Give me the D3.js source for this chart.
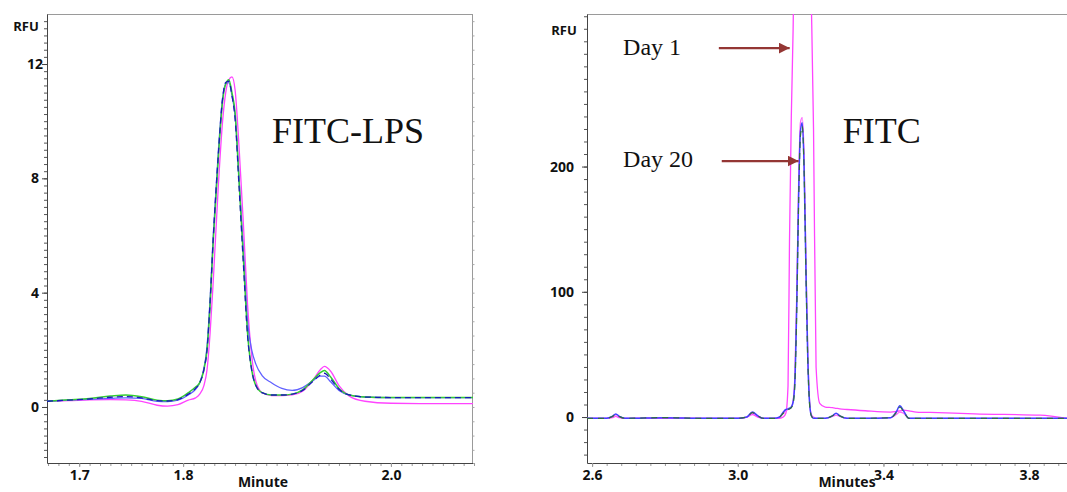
<!DOCTYPE html>
<html>
<head>
<meta charset="utf-8">
<script src="https://cdn.jsdelivr.net/npm/d3@7"></script>
<style>
	body { margin: 0; background: #fff; }
	.tick text { font-family: "Open Sans", sans-serif; font-weight: 700; font-size: 14px; fill: #111; }
	.lbl { font-family: "Open Sans", sans-serif; font-weight: 700; fill: #111; }
	.serif { font-family: "Liberation Serif", "Times New Roman", serif; fill: #111; }
</style>
</head>
<body>
<svg id="chart" width="1067" height="492"></svg>
<script>
// ---- left panel: FITC-LPS (minutes, RFU) ----
const lpsTime = [1.669,1.69,1.71,1.73,1.745,1.76,1.775,1.785,1.795,1.805,1.812,1.816,1.82,1.823,1.826,1.829,1.834,1.838,1.841,1.844,1.847,1.85,1.854,1.858,1.862,1.866,1.87,1.876,1.885,1.895,1.905,1.915,1.925,1.932,1.936,1.942,1.95,1.96,1.975,2.0,2.04,2.079];
const lpsGreen = [0.2,0.25,0.3,0.38,0.42,0.36,0.24,0.22,0.28,0.5,0.7,0.85,1.3,2.0,3.6,5.8,8.8,10.7,11.3,11.45,11.0,10.3,7.8,5.2,2.6,1.3,0.75,0.5,0.42,0.42,0.45,0.6,0.95,1.2,1.28,1.05,0.65,0.42,0.35,0.33,0.33,0.33];
const lpsDark = [0.2,0.24,0.28,0.34,0.36,0.32,0.22,0.21,0.26,0.45,0.65,0.85,1.3,2.0,3.7,5.9,8.9,10.8,11.35,11.4,10.9,10.1,7.6,5.0,2.5,1.3,0.75,0.5,0.42,0.42,0.45,0.58,0.9,1.12,1.18,0.98,0.62,0.42,0.35,0.33,0.33,0.33];
const lpsBlue = [0.2,0.24,0.27,0.3,0.32,0.3,0.2,0.19,0.24,0.42,0.62,0.85,1.35,2.1,3.8,6.0,9.0,10.8,11.3,11.35,10.9,10.2,7.9,5.5,3.0,2.0,1.5,1.1,0.85,0.65,0.58,0.68,0.92,1.08,1.08,0.88,0.58,0.42,0.35,0.33,0.33,0.33];
const lpsMagenta = [0.2,0.22,0.25,0.26,0.25,0.2,0.06,0.03,0.08,0.24,0.32,0.45,0.75,1.3,2.6,4.4,7.8,10.0,11.0,11.45,11.55,11.1,9.0,6.4,3.6,1.8,0.9,0.5,0.4,0.4,0.42,0.55,0.95,1.3,1.42,1.25,0.75,0.38,0.2,0.13,0.12,0.12];
const lpsXTicks = [1.7, 1.8, 2.0];
const lpsYTicks = [0, 4, 8, 12];

// ---- right panel: FITC ----
const fitcTime = [2.586,2.64,2.655,2.665,2.675,2.69,2.8,2.9,3.0,3.025,3.04,3.055,3.07,3.1,3.115,3.125,3.132,3.138,3.142,3.147,3.152,3.157,3.162,3.167,3.172,3.177,3.182,3.187,3.192,3.197,3.202,3.208,3.215,3.225,3.24,3.26,3.27,3.28,3.30,3.35,3.42,3.435,3.445,3.455,3.47,3.49,3.55,3.65,3.83,3.904];
const fitcBlue = [-1,-1,0.5,2.5,0.5,-1,-0.5,-1,-1,0,4,1,-1,-1,0,4,6,6.5,7,8,12,30,90,175,228,235,200,120,50,12,1,-1,-1,-1,-1,1,3,1,-1,-1,-0.5,4,9,5,-1,-1,-1,-1,-1,-1];
const fitcGreen = [-1,-1,0.3,2,0.3,-1,-0.5,-1,-1,0,3.5,1,-1,-1,0,3,5,6,6.5,7.5,11,28,86,170,224,232,198,118,48,11,1,-1,-1,-1,-1,1,2.5,1,-1,-1,-0.5,3.5,8,4.5,-1,-1,-1,-1,-1,-1];
const fitcDay20 = [-1,-1,0,1,0,-1,-0.5,-1,-1,0,3,1,-1,-1,0,3,5,6,6.5,8,13,35,100,185,235,239,210,130,55,14,2,0,-1,-1,-1,0.5,1.5,0.5,-1,-1,-0.5,2,4,3,-1,-1,-1,-1,-1,-1];
const fitcDay1 = [-1,-1,-0.5,0.5,-0.5,-1,-1,-1,-1,0,2,0,-1,-1,-1,0,3,25,140,240,310,420,600,700,720,720,700,600,480,400,330,230,40,11,8,7.5,7,6.5,6,5,4,4.5,5,5.5,5,4,3.5,2.5,1.5,-1];
const fitcXTicks = [2.6, 3.0, 3.4, 3.8];
const fitcYTicks = [0, 100, 200];

// annotations, in data coordinates of the FITC panel
const arrows = [
	{ label: "Day 1", tail: 2.948, tip: 3.1425, y: 294.6, textX: 2.685, textY: 289 },
	{ label: "Day 20", tail: 2.956, tip: 3.167, y: 204.4, textX: 2.685, textY: 199.6 },
];

const svg = d3.select("#chart");
const plotTop = 14, plotBottom = 463;

function panel(opts) {
	const x = d3.scaleLinear().domain(opts.xDomain).range(opts.xRange);
	const y = d3.scaleLinear().domain(opts.yDomain).range([plotBottom, plotTop]);
	const g = svg.append("g");

	g.append("clipPath").attr("id", opts.id + "-clip")
		.append("rect")
		.attr("x", opts.xRange[0]).attr("y", plotTop)
		.attr("width", opts.xRange[1] - opts.xRange[0]).attr("height", plotBottom - plotTop);

	// frame: light top / right borders
	g.append("line").attr("x1", opts.xRange[0]).attr("x2", opts.xRange[1])
		.attr("y1", plotTop + 0.5).attr("y2", plotTop + 0.5).attr("stroke", "#9a9a9a");
	if (opts.rightBorder) {
		g.append("line").attr("x1", opts.xRange[1] - 0.5).attr("x2", opts.xRange[1] - 0.5)
			.attr("y1", plotTop).attr("y2", plotBottom).attr("stroke", "#9a9a9a");
		// little ticks on the outside of the right border
		g.append("g").attr("transform", `translate(${opts.xRange[1] - 0.5},0)`)
			.call(d3.axisRight(y).tickValues(d3.range(-1.5, 13.6, 0.5)).tickSize(2).tickFormat(""))
			.call((s) => s.select(".domain").remove())
			.selectAll("line").attr("stroke", "#aaa");
	}

	// minor ticks
	g.append("g").attr("transform", `translate(${opts.xRange[0]},0)`)
		.call(d3.axisLeft(y).tickValues(opts.yMinor).tickSize(3).tickFormat(""))
		.call((s) => s.select(".domain").remove())
		.selectAll("line").attr("stroke", "#555");
	g.append("g").attr("transform", `translate(0,${plotBottom})`)
		.call(d3.axisBottom(x).tickValues(opts.xMinor).tickSize(3).tickFormat(""))
		.call((s) => s.select(".domain").remove())
		.selectAll("line").attr("stroke", "#999");

	// main axes
	const ya = g.append("g").attr("transform", `translate(${opts.xRange[0]},0)`)
		.call(d3.axisLeft(y).tickValues(opts.yTicks).tickSize(5).tickPadding(opts.yPad).tickSizeOuter(0).tickFormat(d3.format("d")));
	ya.select(".domain").attr("stroke", "#444");
	ya.selectAll("line").attr("stroke", "#444");
	if (opts.yAnchor) ya.selectAll("text").attr("text-anchor", opts.yAnchor).attr("x", opts.yLabelX);

	const xa = g.append("g").attr("transform", `translate(0,${plotBottom})`)
		.call(d3.axisBottom(x).tickValues(opts.xTicks).tickSize(4).tickPadding(3).tickSizeOuter(0).tickFormat(d3.format(".1f")));
	xa.select(".domain").attr("stroke", "#444");
	xa.selectAll("line").attr("stroke", "#999");

	g.append("text").attr("class", "lbl").attr("font-size", 13)
		.attr("x", opts.rfuX).attr("y", opts.rfuY).attr("text-anchor", "middle").text("RFU");
	g.append("text").attr("class", "lbl").attr("font-size", 14)
		.attr("x", opts.titleX).attr("y", 487).attr("text-anchor", "middle").text(opts.xTitle);

	const line = d3.line()
		.x((d, i) => x(opts.time[i]))
		.y((d) => y(d))
		.curve(d3.curveMonotoneX);

	const traces = g.append("g").attr("clip-path", `url(#${opts.id}-clip)`);
	opts.series.forEach((s) => {
		traces.append("path")
			.attr("d", line(s.values))
			.attr("fill", "none")
			.attr("stroke", s.color)
			.attr("stroke-width", s.width || 1.3)
			.attr("stroke-dasharray", s.dash || null);
	});

	return { g, x, y };
}

const left = panel({
	id: "lps",
	xDomain: [1.669, 2.079], xRange: [47, 473],
	yDomain: [-1.96, 13.75],
	xTicks: lpsXTicks, yTicks: lpsYTicks,
	xMinor: d3.range(1.67, 2.08, 0.01), yMinor: d3.range(-1.75, 13.6, 0.25),
	yPad: 4, yAnchor: "middle", yLabelX: -12,
	rightBorder: true,
	rfuX: 26, rfuY: 31, titleX: 263, xTitle: "Minute",
	time: lpsTime,
	series: [
		{ values: lpsMagenta, color: "#ff44ff" },
		{ values: lpsBlue, color: "#6060ff" },
		{ values: lpsGreen, color: "#33cc33", width: 1.5 },
		{ values: lpsDark, color: "#1a1ab8", dash: "6,4" },
	],
});

const right = panel({
	id: "fitc",
	xDomain: [2.586, 3.904], xRange: [587, 1067],
	yDomain: [-36.7, 321.8],
	xTicks: fitcXTicks, yTicks: fitcYTicks,
	xMinor: d3.range(2.6, 3.9, 0.04), yMinor: d3.range(-30, 321, 10),
	yPad: 8,
	rightBorder: false,
	rfuX: 564, rfuY: 35, titleX: 847, xTitle: "Minutes",
	time: fitcTime,
	series: [
		{ values: fitcDay1, color: "#ff44ff" },
		{ values: fitcDay20, color: "#ff66ff" },
		{ values: fitcBlue, color: "#4040ff", width: 1.5 },
		{ values: fitcGreen, color: "#2f6f3f", dash: "6,5", width: 1.2 },
	],
});

// panel titles
left.g.append("text").attr("class", "serif").attr("font-size", 36)
	.attr("x", left.x(1.8856)).attr("y", left.y(9.24)).text("FITC-LPS");
right.g.append("text").attr("class", "serif").attr("font-size", 36)
	.attr("x", right.x(3.288)).attr("y", right.y(218.8)).text("FITC");

// arrows
svg.append("defs").append("marker")
	.attr("id", "head").attr("viewBox", "0 0 10 10")
	.attr("refX", 10).attr("refY", 5)
	.attr("markerWidth", 5).attr("markerHeight", 5)
	.attr("markerUnits", "strokeWidth")
	.attr("orient", "auto")
	.append("path").attr("d", "M0,0L10,5L0,10Z").attr("fill", "#943634");

arrows.forEach((a) => {
	right.g.append("line")
		.attr("x1", right.x(a.tail)).attr("x2", right.x(a.tip))
		.attr("y1", right.y(a.y)).attr("y2", right.y(a.y))
		.attr("stroke", "#943634").attr("stroke-width", 2.2)
		.attr("marker-end", "url(#head)");
	right.g.append("text").attr("class", "serif").attr("font-size", 24)
		.attr("x", right.x(a.textX)).attr("y", right.y(a.textY)).text(a.label);
});
</script>
</body>
</html>
